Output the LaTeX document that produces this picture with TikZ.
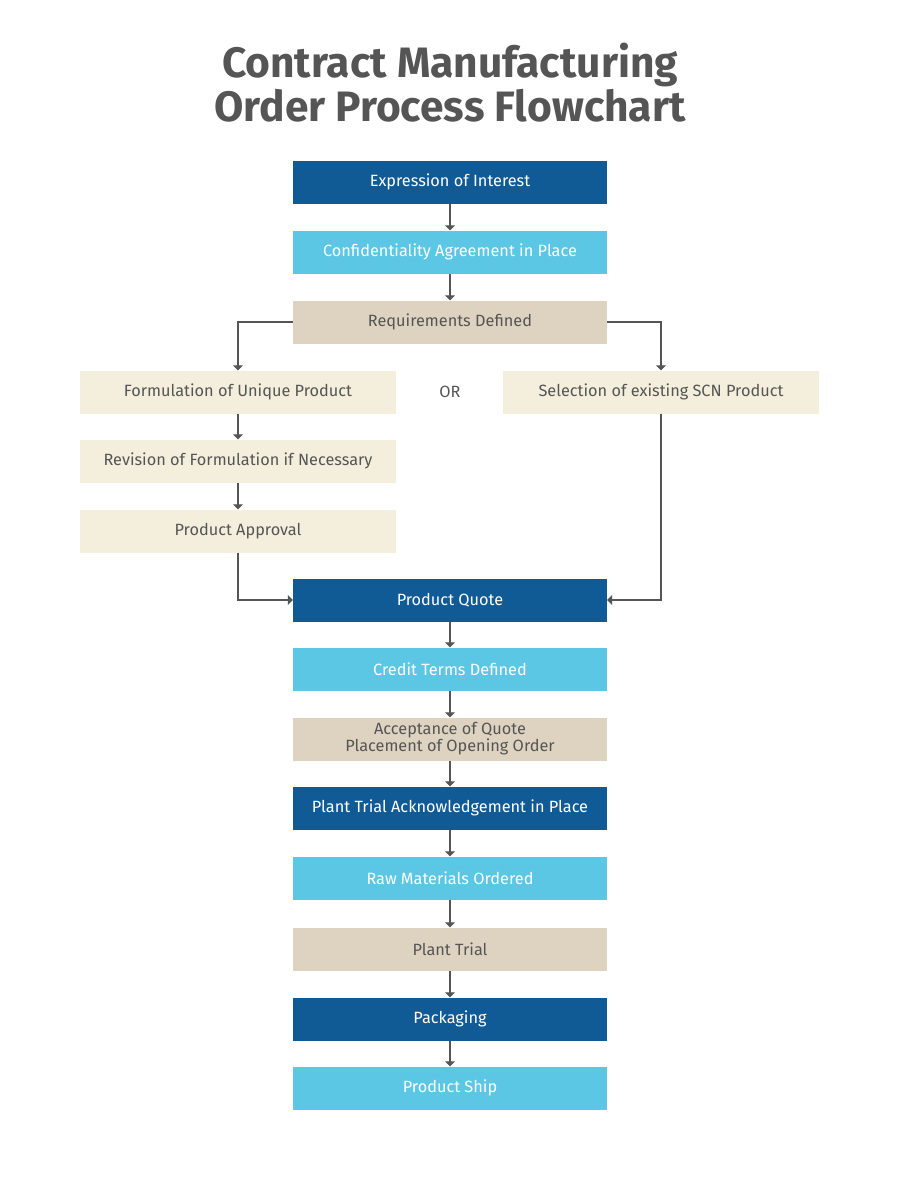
\documentclass[tikz,border=0pt]{standalone}
\usepackage{fontspec}
\setmainfont{Fira Sans}
\usetikzlibrary{arrows.meta}
\definecolor{dblue}{HTML}{105A95}
\definecolor{lblue}{HTML}{5BC7E5}
\definecolor{tan}{HTML}{DDD3C0}
\definecolor{beige}{HTML}{F4EEDC}
\definecolor{txtgray}{HTML}{555555}
\definecolor{linegray}{HTML}{555555}
\tikzset{
  box/.style={minimum width=314pt, minimum height=43pt, inner sep=0pt, font=\fontsize{16.3}{16}\selectfont, align=center},
  sidebox/.style={box, minimum width=316pt},
  darkbox/.style={box, fill=dblue, text=white},
  lightbox/.style={box, fill=lblue, text=white},
  tanbox/.style={box, fill=tan, text=txtgray},
  beigebox/.style={sidebox, fill=beige, text=txtgray},
  conn/.style={draw=linegray, line width=1.4pt, -{Triangle[width=10pt,length=5pt]}},
}
\begin{document}
\begin{tikzpicture}[x=1pt,y=-1pt]
\useasboundingbox[fill=white] (0,0) rectangle (900,1180);
\node[text=txtgray, font=\fontsize{42.5}{44}\selectfont\bfseries, align=center] (title) at (450,83) {Contract Manufacturing\\Order Process Flowchart};
\node[darkbox] (n1) at (450,182) {Expression of Interest};
\node[lightbox] (n2) at (450,252) {Confidentiality Agreement in Place};
\node[tanbox] (n3) at (450,322) {Requirements Defined};
\node[beigebox] (l1) at (238,392) {Formulation of Unique Product};
\node[beigebox] (l2) at (238,461) {Revision of Formulation if Necessary};
\node[beigebox] (l3) at (238,531) {Product Approval};
\node[beigebox] (r1) at (661,392) {Selection of existing SCN Product};
\node[text=txtgray, font=\fontsize{16.3}{16}\selectfont] (or) at (450,392) {OR};
\node[darkbox] (n4) at (450,600) {Product Quote};
\node[lightbox] (n5) at (450,669) {Credit Terms Defined};
\node[tanbox, font=\fontsize{16.3}{14.5}\selectfont] (n6) at (450,739) {Acceptance of Quote\\Placement of Opening Order};
\node[darkbox] (n7) at (450,808) {Plant Trial Acknowledgement in Place};
\node[lightbox] (n8) at (450,878) {Raw Materials Ordered};
\node[tanbox] (n9) at (450,949) {Plant Trial};
\node[darkbox] (n10) at (450,1019) {Packaging};
\node[lightbox] (n11) at (450,1088) {Product Ship};
\draw[conn] (n1) -- (n2);
\draw[conn] (n2) -- (n3);
\draw[conn] (n3.west) -| (l1.north);
\draw[conn] (n3.east) -| (r1.north);
\draw[conn] (l1) -- (l2);
\draw[conn] (l2) -- (l3);
\draw[conn] (l3.south) |- (n4.west);
\draw[conn] (r1.south) |- (n4.east);
\draw[conn] (n4) -- (n5);
\draw[conn] (n5) -- (n6);
\draw[conn] (n6) -- (n7);
\draw[conn] (n7) -- (n8);
\draw[conn] (n8) -- (n9);
\draw[conn] (n9) -- (n10);
\draw[conn] (n10) -- (n11);
\end{tikzpicture}
\end{document}
